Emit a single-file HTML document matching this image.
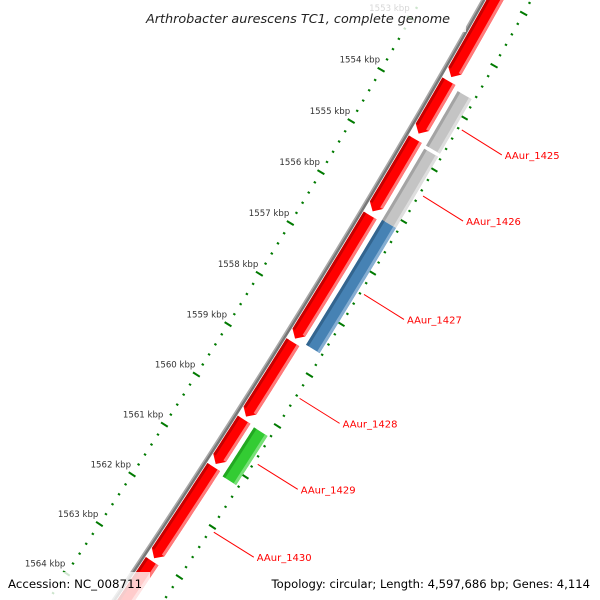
<!DOCTYPE html>
<html><head><meta charset="utf-8"><style>
html,body{margin:0;padding:0;background:#fff;width:600px;height:600px;overflow:hidden;}
svg{display:block;font-family:"DejaVu Sans","Liberation Sans",sans-serif;}
</style></head><body>
<svg id="map" width="600" height="600" viewBox="0 0 600 600">
<g id="backbone"></g>
<g id="rulers"></g>
<g id="genes"></g>
<g id="labels"></g>
<rect x="130" y="3" width="336" height="29" fill="#fff" fill-opacity="0.8"/>
<text x="298" y="23" text-anchor="middle" font-size="12.8" font-style="italic" fill="#222">Arthrobacter aurescens TC1, complete genome</text>
<rect x="0" y="572" width="150" height="28" fill="#fff" fill-opacity="0.8"/>
<text x="8" y="588" font-size="11.8" fill="#000">Accession: NC_008711</text>
<text x="590" y="588" text-anchor="end" font-size="11.6" fill="#000">Topology: circular; Length: 4,597,686 bp; Genes: 4,114</text>
</svg>
<script>
// gene data (kbp)
const geneStart = [1550, 1553.60, 1554.72, 1556.20, 1558.68, 1560.21, 1561.15, 1563.03, 1553.67, 1554.78, 1556.16, 1560.23];
const geneEnd   = [1553.52, 1554.61, 1556.12, 1558.61, 1560.15, 1561.09, 1562.97, 1567, 1554.72, 1556.16, 1558.60, 1561.20];
const geneTrack = [1, 1, 1, 1, 1, 1, 1, 1, 2, 2, 2, 2];
const geneType  = ["red","red","red","red","red","red","red","red","gray","gray","blue","green"];
const geneLabel = ["", "", "", "", "AAur_1428", "", "AAur_1430", "", "AAur_1425", "AAur_1426", "AAur_1427", "AAur_1429"];
const rulerFrom = 1550;
const rulerTo = 1566;
const tickLabelKbp = [1553, 1554, 1555, 1556, 1557, 1558, 1559, 1560, 1561, 1562, 1563, 1564];

const NS = "http://www.w3.org/2000/svg";
const R0 = 8700, CX = -7150, CY = -4286, TH0 = 0.5585, K = 0.006828;
function pt(kbp, r) {
  const th = TH0 + (kbp - 1559) * K;
  const R = R0 + r;
  return [CX + R * Math.cos(th), CY + R * Math.sin(th)];
}
function mk(tag, parent, attrs) {
  const e = document.createElementNS(NS, tag);
  for (const k in attrs) e.setAttribute(k, attrs[k]);
  parent.appendChild(e);
  return e;
}
function arcPts(a, b, r, n) {
  const out = [];
  for (let i = 0; i <= n; i++) out.push(pt(a + (b - a) * i / n, r));
  return out;
}
function polyStr(p) { return p.map(q => q[0].toFixed(2) + "," + q[1].toFixed(2)).join(" "); }

// backbone
const bb = document.getElementById("backbone");
const bIn = mk("polyline", bb, {points: polyStr(arcPts(1549, 1567, 53, 60)), fill: "none", stroke: "#a8a8a8", "stroke-width": 1.5});


const bOut = mk("polyline", bb, {points: polyStr(arcPts(1549, 1567, 55, 60)), fill: "none", stroke: "#777", "stroke-width": 2.5});



// rulers
const rg = document.getElementById("rulers");
[0, 96].forEach(function (rr) {
  const steps = Math.round((rulerTo - rulerFrom) / 0.2);
  for (let i = 0; i <= steps; i++) {
    const kb = rulerFrom + i * 0.2;
    const major = Math.abs(kb - Math.round(kb)) < 1e-6;
    const h = major ? 4 : 1.2;
    const a = pt(kb, rr - h), b = pt(kb, rr + h);
    const t = mk("line", rg, {x1: a[0], y1: a[1], x2: b[0], y2: b[1], stroke: "#007a00", "stroke-width": 2});
    
    
  }
});
tickLabelKbp.forEach(function (kb) {
  const p = pt(kb, 0);
  const t = mk("text", rg, {x: p[0] - 1, y: p[1] - 7, "text-anchor": "end", "font-size": "8.6", fill: "#333"});
  t.textContent = kb + " kbp";
  
  
});

// genes
const colors = {
  red: ["#ff0000", "#c80000", "#ff7a7a"],
  gray: ["#c4c4c4", "#a4a4a4", "#dedede"],
  blue: ["#4682b4", "#33658f", "#86aed2"],
  green: ["#33cc33", "#22a822", "#77e077"]
};
const tracks = {1: [57, 72], 2: [77, 93]};
const gg = document.getElementById("genes");
const lg = document.getElementById("labels");
for (let i = 0; i < geneStart.length; i++) {
  const s = geneStart[i], e = geneEnd[i];
  const r1 = tracks[geneTrack[i]][0], r2 = tracks[geneTrack[i]][1];
  const c = colors[geneType[i]];
  const arrow = geneType[i] === "red";
  const ah = arrow ? 0.12 : 0;
  const bodyEnd = e - ah;
  const g = mk("g", gg, {});
  
  
  let outer = arcPts(s, bodyEnd, r2, 20);
  let inner = arcPts(s, bodyEnd, r1, 20).reverse();
  let pts = outer.slice();
  if (arrow) pts.push(pt(e, (r1 + r2) / 2));
  pts = pts.concat(inner);
  mk("polygon", g, {points: polyStr(pts), fill: c[0]});
  const st1 = arcPts(s, bodyEnd, r1 + 3, 20).concat(arcPts(s, bodyEnd, r1, 20).reverse());
  mk("polygon", g, {points: polyStr(st1), fill: c[1]});
  const st2 = arcPts(s, bodyEnd, r2, 20).concat(arcPts(s, bodyEnd, r2 - 3, 20).reverse());
  mk("polygon", g, {points: polyStr(st2), fill: c[2]});
  if (geneLabel[i]) {
    const p = pt((s + e) / 2, 100);
    const ln = mk("line", lg, {x1: p[0], y1: p[1], x2: p[0] + 40, y2: p[1] + 25, stroke: "#ff0000", "stroke-width": 1});
    
    
    const tx = mk("text", lg, {x: p[0] + 43, y: p[1] + 29, "font-size": "10", fill: "#ff0000"});
    tx.textContent = geneLabel[i];
    
    
  }
}
</script>
</body></html>
